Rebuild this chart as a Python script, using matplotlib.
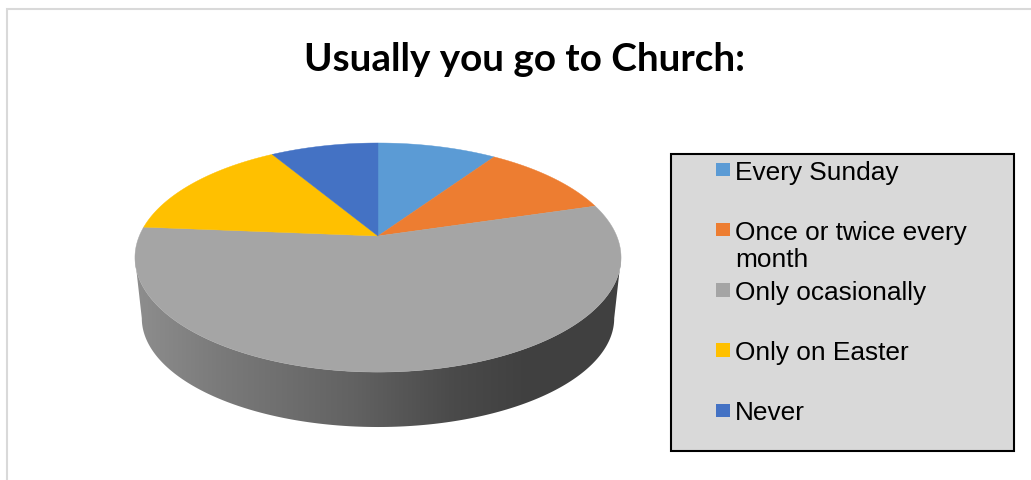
import textwrap
import numpy as np
import matplotlib.pyplot as plt
from matplotlib.patches import Polygon, Rectangle

categories = ['Every Sunday', 'Once or twice every month', 'Only ocasionally',
              'Only on Easter', 'Never']
shares = [9.5, 10.9, 55.9, 15.1, 8.6]
colors = ['#5B9BD5', '#ED7D31', '#A5A5A5', '#FFC000', '#4472C4']
title = 'Usually you go to Church:'

W, H = 1031, 481
fig = plt.figure(figsize=(W / 100, H / 100), dpi=100)
ax = fig.add_axes([0, 0, 1, 1])
ax.set_xlim(0, W)
ax.set_ylim(H, 0)
ax.axis('off')

# chart area outline (light grey, runs off the right / bottom)
ax.plot([7, 7, W], [H, 10, 10], color='#D9D9D9', lw=1.5, solid_joinstyle='miter')

# perspective disc, angle measured clockwise from 12 o'clock
CX = 378
K = 0.188


def rim(theta, f, s, cy):
    x = np.sin(theta)
    y = np.cos(theta)
    w = 1 + K * y
    return CX + f * x / w, cy - s * y / w


top = dict(f=238.7, s=110.5, cy=237)
bottom = dict(f=232.0, s=105.0, cy=298.7)

# side wall between the front halves of top and bottom rims
t_r = np.arccos(-K)
t_l = 2 * np.pi - t_r
tt = np.linspace(t_r, t_l, 200)
xt, yt = rim(tt, **top)
xb, yb = rim(tt[::-1], **bottom)
wall = Polygon(np.column_stack([np.r_[xt, xb], np.r_[yt, yb]]),
               closed=True, facecolor='none', edgecolor='none')
ax.add_patch(wall)

gx = np.linspace(xt.min(), xt.max(), 400)
shade = np.interp(gx, [134, 220, 353, 453, 520, 622],
                  [142, 122, 98, 74, 65, 64]) / 255
grad = np.tile(shade, (2, 1))
im = ax.imshow(np.dstack([grad, grad, grad]), aspect='auto',
               extent=[gx[0], gx[-1], yb.max() + 2, yt.min() - 2],
               interpolation='bilinear', zorder=1)
im.set_clip_path(wall)

# top face slices
bounds = np.r_[0, np.cumsum(shares)] / sum(shares) * 2 * np.pi
apex = (CX, top['cy'])
for a0, a1, c in zip(bounds[:-1], bounds[1:], colors):
    t = np.linspace(a0, a1, max(int((a1 - a0) * 80), 4))
    px, py = rim(t, **top)
    ax.add_patch(Polygon(np.column_stack([np.r_[apex[0], px], np.r_[apex[1], py]]),
                         closed=True, facecolor=c, edgecolor=c, lw=0.3, zorder=2))

ax.text(524, 71, title, ha='center', va='baseline', fontsize=27.8,
        fontfamily='Lato', fontweight='bold', color='black')

# legend box
ax.add_patch(Rectangle((671, 155), 343, 297, facecolor='#D9D9D9',
                       edgecolor='black', lw=1.5, zorder=3))
for i, (lab, c) in enumerate(zip(categories, colors)):
    yc = 170.5 + 60.2 * i
    ax.add_patch(Rectangle((715.5, yc - 6.8), 14, 13.6, facecolor=c,
                           edgecolor='none', zorder=4))
    ax.text(735, yc - 9.8, textwrap.fill(lab, 19), ha='left', va='top',
            fontsize=18.9, fontfamily='Liberation Sans', linespacing=1.17,
            color='black', zorder=4)

fig.savefig('out.png', dpi=100)
